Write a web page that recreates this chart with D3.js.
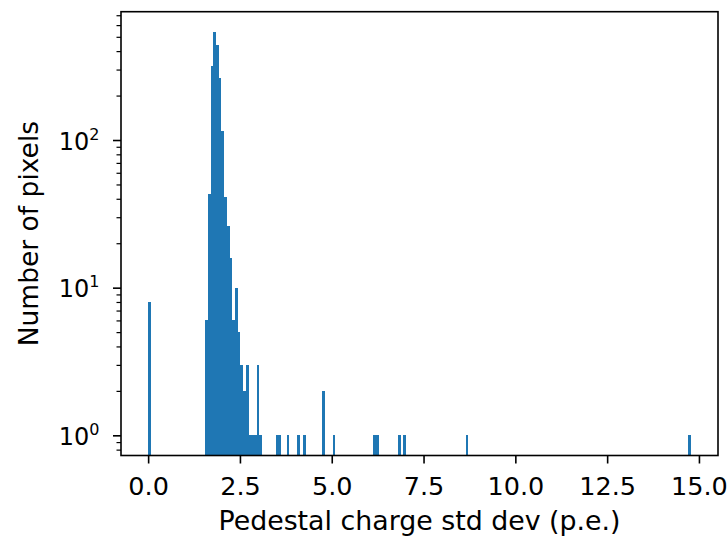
<!DOCTYPE html>
<html>
<head>
<meta charset="utf-8">
<script src="https://cdn.jsdelivr.net/npm/d3@7"></script>
<style>
  body { margin: 0; background: #fff; }
  svg { display: block; font-family: "DejaVu Sans", sans-serif; }
</style>
</head>
<body>
<div id="chart"></div>
<script>
// histogram bins (left edge in p.e., pixel count)
const binWidth = 0.0739;
const binEdges = [
  0.000,
  1.552, 1.626, 1.700, 1.774, 1.848, 1.921, 1.995, 2.069, 2.143, 2.217,
  2.291, 2.365, 2.439, 2.513, 2.587, 2.660, 2.734, 2.808, 2.882, 2.956, 3.030,
  3.473, 3.547, 3.769, 4.065, 4.212, 4.730, 5.025, 6.134, 6.208, 6.799, 6.947,
  8.646, 14.706
];
const counts = [
  8,
  6, 43, 316, 540, 438, 262, 115, 41, 26, 16,
  6, 10, 5, 3, 2, 3, 1, 1, 1, 3, 1,
  1, 1, 1, 1, 1, 2, 1, 1, 1, 1, 1,
  1, 1
];
const xTicks = [0, 2.5, 5, 7.5, 10, 12.5, 15];
const yTicks = [1, 10, 100];
const xLabel = "Pedestal charge std dev (p.e.)";
const yLabel = "Number of pixels";

const bins = binEdges.map((e, i) => ({x0: e, x1: e + binWidth, n: counts[i]}));

const width = 727;
const height = 536;
const marginTop = 11.7;
const marginRight = 9;
const marginBottom = 80.5;
const marginLeft = 121;

// matplotlib style 5% padding on both axes
const xLo = d3.min(bins, d => d.x0), xHi = d3.max(bins, d => d.x1);
const xPad = (xHi - xLo) * 0.05;
const x = d3.scaleLinear()
    .domain([xLo - xPad, xHi + xPad])
    .range([marginLeft, width - marginRight]);

const lLo = Math.log10(d3.min(counts)), lHi = Math.log10(d3.max(counts));
const lPad = (lHi - lLo) * 0.05;
const y = d3.scaleLog()
    .domain([Math.pow(10, lLo - lPad), Math.pow(10, lHi + lPad)])
    .range([height - marginBottom, marginTop]);

const svg = d3.create("svg")
    .attr("width", width)
    .attr("height", height);

// bars - snapped to whole pixels so neighbouring bins join without seams
svg.append("g")
    .attr("fill", "#1f77b4")
    .attr("shape-rendering", "crispEdges")
  .selectAll("rect")
  .data(bins)
  .join("rect")
    .attr("x", d => Math.round(x(d.x0)))
    .attr("width", d => Math.round(x(d.x1)) - Math.round(x(d.x0)))
    .attr("y", d => y(d.n))
    .attr("height", d => y.range()[0] - y(d.n));

// x axis
const gx = svg.append("g")
    .attr("transform", `translate(0,${height - marginBottom})`)
    .call(d3.axisBottom(x).tickValues(xTicks).tickFormat(d3.format(".1f"))
      .tickSize(8).tickSizeOuter(0));
gx.select(".domain").remove();
gx.selectAll(".tick line").attr("stroke", "#000").attr("stroke-width", 1.6);
gx.selectAll(".tick text")
    .attr("y", 39.5).attr("dy", 0)
    .attr("font-size", 25.5)
    .attr("font-family", "DejaVu Sans")
    .attr("fill", "#000");

// y axis minor ticks
const minor = [];
for (let k = -1; k <= 3; k++) {
  for (let m = 2; m <= 9; m++) {
    const v = m * Math.pow(10, k);
    if (v >= y.domain()[0] && v <= y.domain()[1]) minor.push(v);
  }
}
const gyMinor = svg.append("g")
    .attr("transform", `translate(${marginLeft},0)`)
    .call(d3.axisLeft(y).tickValues(minor).tickFormat("").tickSize(4.5).tickSizeOuter(0));
gyMinor.select(".domain").remove();
gyMinor.selectAll(".tick line").attr("stroke", "#000").attr("stroke-width", 1.2);

// y axis major ticks with 10^k labels
const gy = svg.append("g")
    .attr("transform", `translate(${marginLeft},0)`)
    .call(d3.axisLeft(y).tickValues(yTicks).tickFormat("").tickSize(8).tickSizeOuter(0));
gy.select(".domain").remove();
gy.selectAll(".tick line").attr("stroke", "#000").attr("stroke-width", 1.6);
gy.selectAll(".tick text")
    .attr("x", -21.5).attr("dy", 9)
    .attr("font-family", "DejaVu Sans")
    .attr("fill", "#000")
    .each(function(d) {
      const t = d3.select(this);
      t.append("tspan").attr("font-size", 24).text("10");
      t.append("tspan").attr("font-size", 16).attr("dy", -10)
        .text(String(Math.round(Math.log10(d))));
    });

// frame
svg.append("rect")
    .attr("x", marginLeft)
    .attr("y", marginTop)
    .attr("width", width - marginRight - marginLeft)
    .attr("height", height - marginBottom - marginTop)
    .attr("fill", "none")
    .attr("stroke", "#000")
    .attr("stroke-width", 1.6);

// axis labels
svg.append("text")
    .attr("x", (marginLeft + width - marginRight) / 2)
    .attr("y", 530)
    .attr("text-anchor", "middle")
    .attr("font-size", 26.8)
    .text(xLabel);

svg.append("text")
    .attr("transform", `translate(38,${(marginTop + height - marginBottom) / 2}) rotate(-90)`)
    .attr("text-anchor", "middle")
    .attr("font-size", 26.5)
    .text(yLabel);

document.getElementById("chart").append(svg.node());
</script>
</body>
</html>
